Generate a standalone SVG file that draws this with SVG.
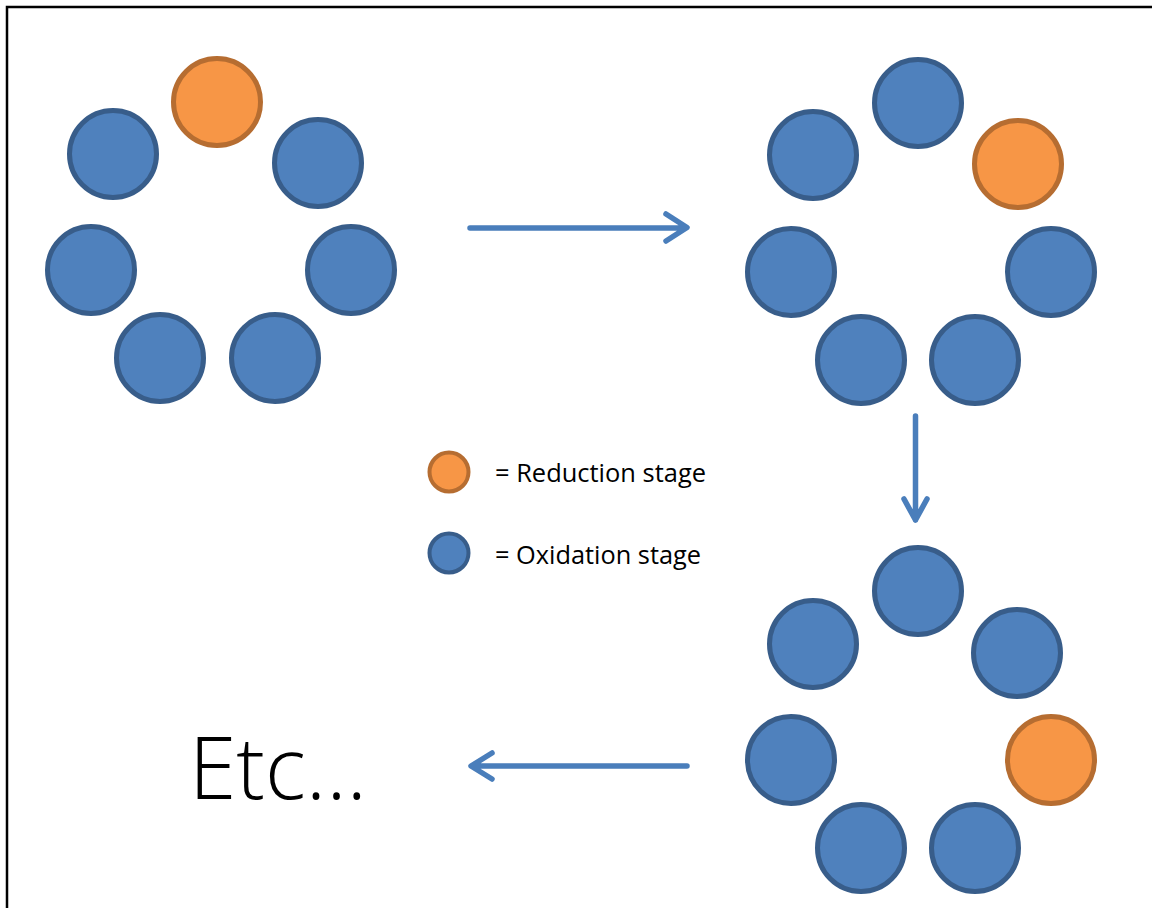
<svg xmlns="http://www.w3.org/2000/svg" width="1152" height="908" viewBox="0 0 1152 908">
<style>
.b{fill:#4F81BD;stroke:#385D8A;stroke-width:5}
.o{fill:#F79646;stroke:#B66D31;stroke-width:5}
.a{fill:none;stroke:#4A7EBB;stroke-width:5.5;stroke-linecap:round;stroke-linejoin:round}
.t{font-family:"Open Sans","Noto Sans",sans-serif;fill:#000}
</style>
<rect x="0" y="0" width="1152" height="908" fill="#fff"/>
<path d="M7,908 V7 H1152" fill="none" stroke="#000" stroke-width="2.5"/>
<g id="ring1">
<circle class="o" cx="217" cy="102" r="43.5"/>
<circle class="b" cx="113" cy="154" r="43.5"/>
<circle class="b" cx="318" cy="163" r="43.5"/>
<circle class="b" cx="91" cy="270" r="43.5"/>
<circle class="b" cx="351" cy="270" r="43.5"/>
<circle class="b" cx="160" cy="358" r="43.5"/>
<circle class="b" cx="275" cy="358" r="43.5"/>
</g>
<g id="ring2">
<circle class="b" cx="918" cy="103" r="43.5"/>
<circle class="b" cx="813" cy="155" r="43.5"/>
<circle class="o" cx="1018" cy="164" r="43.5"/>
<circle class="b" cx="791" cy="272" r="43.5"/>
<circle class="b" cx="1051" cy="272" r="43.5"/>
<circle class="b" cx="861" cy="360" r="43.5"/>
<circle class="b" cx="975" cy="360" r="43.5"/>
</g>
<g id="ring3">
<circle class="b" cx="918" cy="591" r="43.5"/>
<circle class="b" cx="813" cy="644" r="43.5"/>
<circle class="b" cx="1017" cy="653" r="43.5"/>
<circle class="b" cx="791" cy="760" r="43.5"/>
<circle class="o" cx="1051" cy="760" r="43.5"/>
<circle class="b" cx="861" cy="848" r="43.5"/>
<circle class="b" cx="975" cy="848" r="43.5"/>
</g>
<g id="legend">
<circle class="o" cx="449" cy="472" r="19.5" style="stroke-width:4"/>
<text class="t" x="495" y="482" font-size="25" textLength="211" lengthAdjust="spacingAndGlyphs">= Reduction stage</text>
<circle class="b" cx="449" cy="553" r="19.5" style="stroke-width:4"/>
<text class="t" x="495" y="564" font-size="25" textLength="206" lengthAdjust="spacingAndGlyphs">= Oxidation stage</text>
</g>
<g id="etc">
<text class="t" x="189" y="799" font-size="86" font-weight="300" textLength="178" lengthAdjust="spacingAndGlyphs">Etc...</text>
</g>
<g id="connectors">
<path class="a" d="M470,228 H686 M666,214 L687,227.5 L666,241"/>
<path class="a" d="M915.5,416 V520 M904,499 L915.5,520 L927,499"/>
<path class="a" d="M687,766 H472 M492,753 L471,766 L492,779"/>
</g>
</svg>
